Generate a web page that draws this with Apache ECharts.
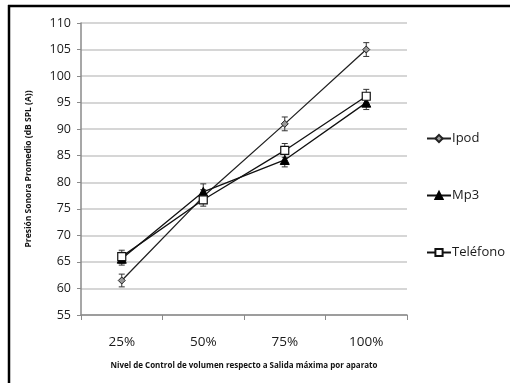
<!DOCTYPE html>
<html><head><meta charset="utf-8">
<script src="https://cdn.jsdelivr.net/npm/echarts@6/dist/echarts.min.js"></script>
<style>html,body{margin:0;padding:0;background:#fff}#c{width:510px;height:383px}</style>
</head><body><div id="c"></div>
<script>
const categories = ['25%', '50%', '75%', '100%'];
const ipod = [61.5, 77.3, 91, 105];
const mp3 = [65.6, 78.2, 84.2, 95];
const telefono = [66, 76.7, 86, 96.2];
const ipodErr = [1.2, 1.3, 1.3, 1.3];
const mp3Err = [1.2, 1.5, 1.3, 1.3];
const telefonoErr = [1.2, 1.2, 1.3, 1.3];
const yTicks = {min: 55, max: 110, interval: 5};

const font = '"Open Sans", "Liberation Sans", sans-serif';
function errData(vals, errs) { return vals.map((v, i) => [i, v - errs[i], v + errs[i]]); }
function errSeries(vals, errs) {
  return {
    type: 'custom', silent: true, z: 1,
    data: errData(vals, errs),
    encode: {x: 0, y: [1, 2]},
    renderItem: function (params, api) {
      const lo = api.coord([api.value(0), api.value(1)]);
      const hi = api.coord([api.value(0), api.value(2)]);
      const w = 3;
      const st = {stroke: '#333', lineWidth: 1};
      return {type: 'group', children: [
        {type: 'line', shape: {x1: lo[0], y1: lo[1], x2: hi[0], y2: hi[1]}, style: st},
        {type: 'line', shape: {x1: lo[0] - w, y1: lo[1], x2: lo[0] + w, y2: lo[1]}, style: st},
        {type: 'line', shape: {x1: hi[0] - w, y1: hi[1], x2: hi[0] + w, y2: hi[1]}, style: st}
      ]};
    }
  };
}
const chart = echarts.init(document.getElementById('c'), null, {renderer: 'canvas'});
chart.setOption({
  animation: false,
  backgroundColor: '#fff',
  grid: {left: 81, right: 103, top: 23, bottom: 68},
  legend: {
    orient: 'vertical', left: 421, top: 127, itemGap: 44, itemWidth: 24, itemHeight: 9,
    textStyle: {fontFamily: font, fontSize: 13, color: '#1a1a1a', padding: [0, 0, 0, -4]},
    data: ['Ipod', 'Mp3', 'Teléfono']
  },
  xAxis: {
    type: 'category', data: categories, boundaryGap: true,
    axisLine: {lineStyle: {color: '#8a8a8a', width: 1.5}},
    axisTick: {show: true, length: 5, lineStyle: {color: '#8a8a8a'}},
    axisLabel: {fontFamily: font, fontSize: 13.5, color: '#1a1a1a', margin: 20},
    name: 'Nivel de Control de volumen respecto a Salida máxima por aparato',
    nameLocation: 'middle', nameGap: 47,
    nameTextStyle: {fontFamily: font, fontSize: 8, fontWeight: 'bold', color: '#111'}
  },
  yAxis: {
    type: 'value', min: yTicks.min, max: yTicks.max, interval: yTicks.interval,
    axisLine: {show: true, lineStyle: {color: '#8a8a8a', width: 1.5}},
    axisTick: {show: true, length: 4, lineStyle: {color: '#8a8a8a'}},
    axisLabel: {fontFamily: font, fontSize: 12.5, color: '#1a1a1a', margin: 10},
    splitLine: {lineStyle: {color: '#c8c8c8', width: 1.5}},
    name: 'Presión Sonora Promedio (dB SPL (A))',
    nameLocation: 'middle', nameGap: 48, nameRotate: 90,
    nameTextStyle: {fontFamily: font, fontSize: 8.5, fontWeight: 'bold', color: '#111'}
  },
  graphic: [
    {type: 'line', shape: {x1: 8, y1: 6, x2: 510, y2: 6}, style: {stroke: '#000', lineWidth: 2.5}},
    {type: 'line', shape: {x1: 9, y1: 5, x2: 9, y2: 383}, style: {stroke: '#000', lineWidth: 2.5}}
  ],
  series: [
    errSeries(ipod, ipodErr), errSeries(mp3, mp3Err), errSeries(telefono, telefonoErr),
    {name: 'Ipod', type: 'line', data: ipod, z: 3, symbol: 'diamond', symbolSize: 7,
     lineStyle: {color: '#222', width: 1.3},
     itemStyle: {color: '#9a9a9a', borderColor: '#222', borderWidth: 1}},
    {name: 'Mp3', type: 'line', data: mp3, z: 3, symbol: 'triangle', symbolSize: 9,
     lineStyle: {color: '#111', width: 1.3},
     itemStyle: {color: '#000', borderColor: '#000', borderWidth: 1}},
    {name: 'Teléfono', type: 'line', data: telefono, z: 4, symbol: 'rect', symbolSize: 8,
     lineStyle: {color: '#111', width: 1.3},
     itemStyle: {color: '#fff', borderColor: '#111', borderWidth: 1.2}}
  ]
});
</script></body></html>
